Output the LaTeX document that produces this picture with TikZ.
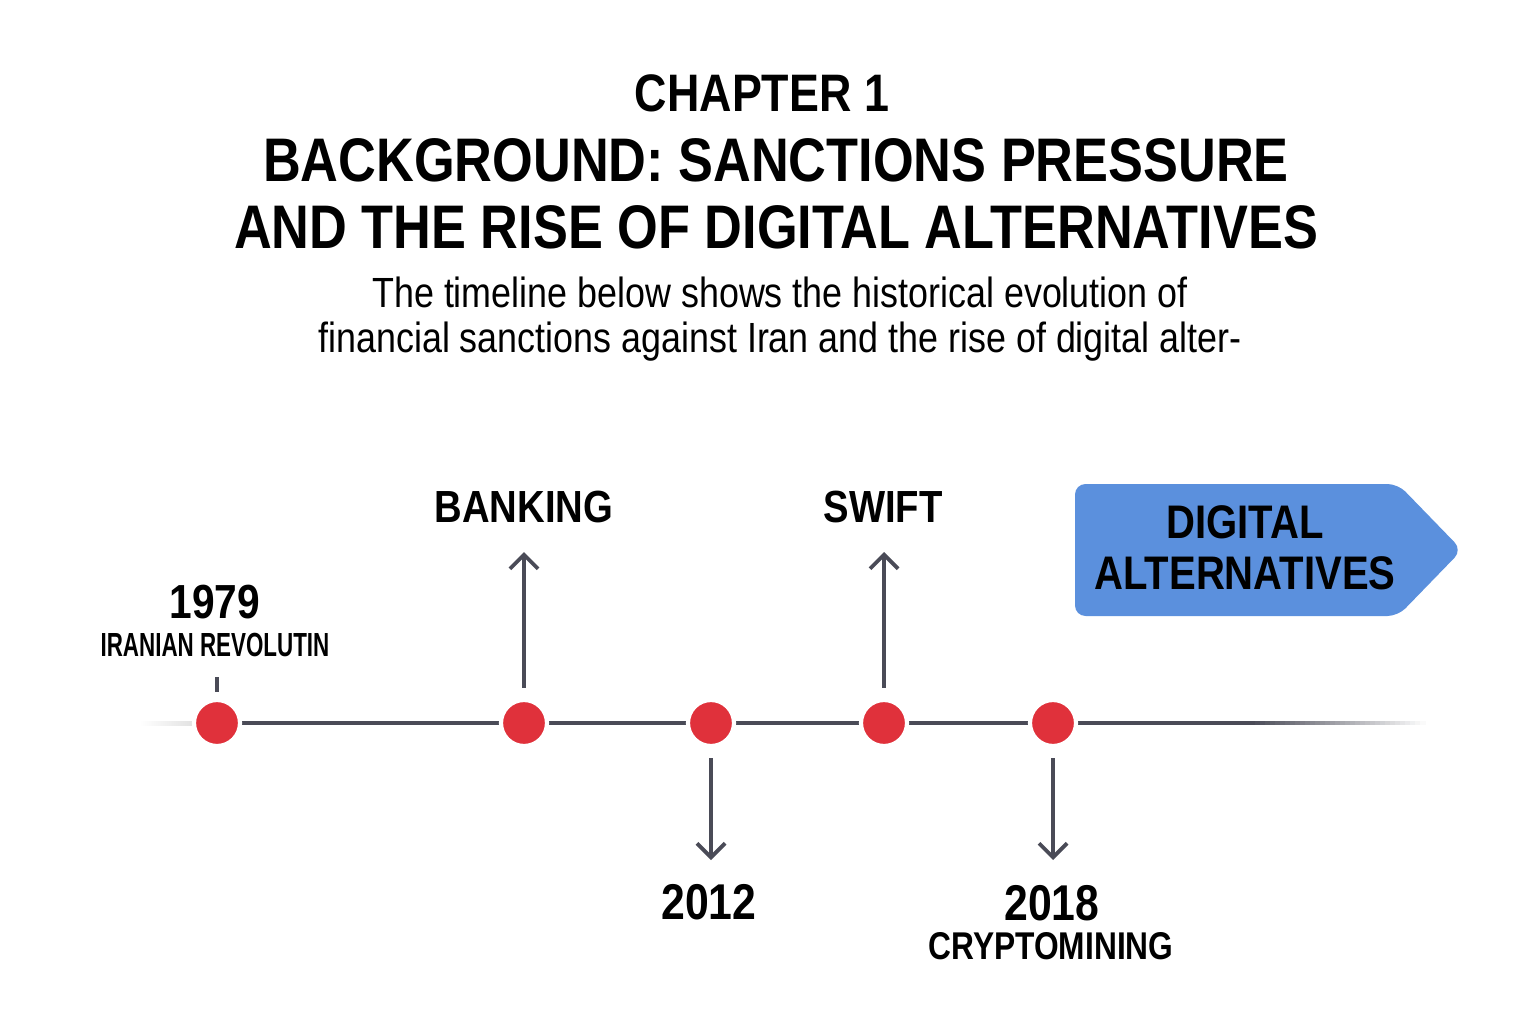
\documentclass[tikz,border=0pt]{standalone}
\usepackage{fontspec}
\setmainfont{Liberation Sans}[FakeStretch=0.85]
\newfontfamily\condfont[FakeStretch=0.82]{Liberation Sans}
\newfontfamily\narrowfont[FakeStretch=0.67]{Liberation Sans}
\usetikzlibrary{arrows.meta}
\definecolor{lineink}{HTML}{4A4B57}
\definecolor{dotred}{HTML}{E0313B}
\definecolor{tagblue}{HTML}{5B90DD}
\tikzset{
  event/.style={circle,fill=dotred,draw=white,line width=1.2pt,minimum size=0.46cm,inner sep=0pt},
  stem/.style={lineink,line width=1.1pt,-{Straight Barb[length=1.4mm,width=2.8mm,line width=1.1pt]}},
  year/.style={font=\bfseries\fontsize{14.3}{16}\selectfont},
  caption/.style={font=\condfont\bfseries\fontsize{11}{12}\selectfont}
}

\begin{document}
\begin{tikzpicture}[x=0.01cm,y=-0.01cm]
  \useasboundingbox (0,0) rectangle (1536,1024);
  \node (chapter) at (762,93) {\bfseries\fontsize{15}{18}\selectfont CHAPTER 1};
  \node[align=center,font=\bfseries\fontsize{17.5}{19.2}\selectfont] (title) at (776,194)
    {BACKGROUND: SANCTIONS PRESSURE\\AND THE RISE OF DIGITAL ALTERNATIVES};
  \node[align=center,font=\fontsize{12}{12.6}\selectfont] (intro) at (780,319)
    {The timeline below shows the historical evolution of\\financial sanctions against Iran and the rise of digital alter-};
  % timeline
  \shade[left color=white,right color=black!14] (140,721) rectangle (205,725);
  \fill[lineink] (205,721) rectangle (1250,725);
  \foreach \i in {0,...,34}
    \pgfmathsetmacro\pct{100-\i*100/35}
    \fill[lineink!\pct!white] (1250+\i*5,721) rectangle (1256+\i*5,725);
  \node[event] (e79) at (217,723) {};
  \node[event] (e00) at (524,723) {};
  \node[event] (e12) at (711,723) {};
  \node[event] (e08) at (884,723) {};
  \node[event] (e18) at (1053,723) {};
  \draw[lineink,line width=1.1pt] (217,677) -- (217,692);
  \node[year,font=\bfseries\fontsize{13.6}{15}\selectfont] (y79) at (215,602) {1979};
  \node[caption,font=\narrowfont\bfseries\fontsize{9.5}{11}\selectfont] (l79) at (215,645) {IRANIAN REVOLUTIN};
  \node[year,font=\bfseries\fontsize{12.8}{14}\selectfont] (bank) at (524,507) {BANKING};
  \node[year,font=\bfseries\fontsize{12.8}{14}\selectfont] (swift) at (883,507) {SWIFT};
  \draw[stem] (e00.north) ++(0,-10) -- (524,552);
  \draw[stem] (e08.north) ++(0,-10) -- (884,552);
  \draw[stem] (e12.south) ++(0,10) -- (711,860);
  \draw[stem] (e18.south) ++(0,10) -- (1053,860);
  \node[year] (y12) at (709,902) {2012};
  \node[year] (y18) at (1052,903) {2018};
  \node[caption] (l18) at (1051,946) {CRYPTOMINING};
  % digital alternatives tag
  \fill[tagblue,rounded corners=3pt] (1075,484) -- (1398,484) -- (1462,550) -- (1398,616) -- (1075,616) -- cycle;
  \node[align=center,font=\bfseries\fontsize{13.4}{14.5}\selectfont] (digital) at (1245,548)
    {DIGITAL\\ALTERNATIVES};
\end{tikzpicture}
\end{document}
